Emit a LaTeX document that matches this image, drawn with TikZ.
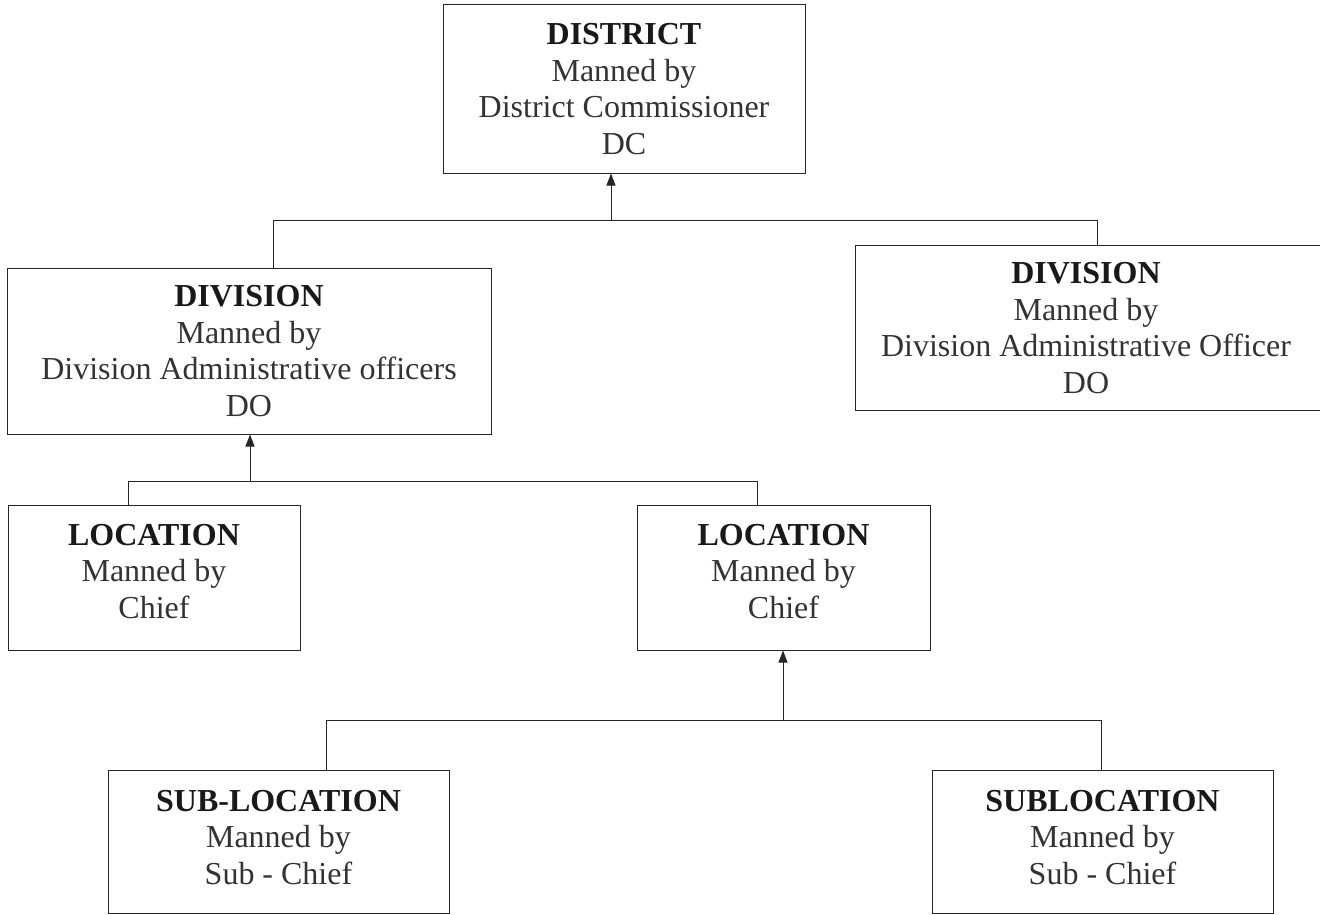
\documentclass[tikz,border=0pt]{standalone}
\usepackage{fontspec}
\setmainfont{Liberation Serif}
\usetikzlibrary{arrows.meta}

\tikzset{
  unit/.style={draw=black!85, line width=1pt, inner sep=0pt, align=center,
    font=\fontsize{32}{36.5}\selectfont, text=black!80},
  link/.style={draw=black!85, line width=1pt},
  up/.style={link, -{Triangle[length=12pt,width=9pt]}},
}
\newcommand\lvl[1]{\textbf{\color{black!90}#1}}

\begin{document}
\begin{tikzpicture}[x=1pt,y=-1pt]
  \useasboundingbox (0,0) rectangle (1320,915);

  %% top
  \node[unit, minimum width=362, minimum height=168] (dist) at (624,89)
    {\lvl{DISTRICT}\\Manned by\\District Commissioner\\DC};

  %% divisions
  \node[unit, minimum width=484, minimum height=166] (divL) at (249,351)
    {\lvl{DIVISION}\\Manned by\\Division Administrative officers\\DO};
  \node[unit, minimum width=480, minimum height=165, anchor=north west]
    (divR) at (855,245) {};
  \node[unit, draw=none] (divRtxt) at (1086,328)
    {\lvl{DIVISION}\\Manned by\\Division Administrative Officer\\DO};

  %% locations
  \node[unit, minimum width=292, minimum height=145] (locL) at (154,577.5)
    {\lvl{LOCATION}\\Manned by\\Chief\\[-24pt]};
  \node[unit, minimum width=293, minimum height=145] (locM) at (783.5,577.5)
    {\lvl{LOCATION}\\Manned by\\Chief\\[-24pt]};

  %% sub-locations
  \node[unit, minimum width=341, minimum height=143] (subL) at (278.5,841.5)
    {\lvl{SUB-LOCATION}\\Manned by\\Sub - Chief\\[-28pt]};
  \node[unit, minimum width=341, minimum height=143] (subR) at (1102.5,841.5)
    {\lvl{SUBLOCATION}\\Manned by\\Sub - Chief\\[-28pt]};

  %% district -> divisions
  \coordinate (jDist) at (611,220);
  \coordinate (jDivL) at (273,220);
  \coordinate (jDivR) at (1097,220);
  \draw[link] (jDivL |- divL.north) -- (jDivL) -- (jDivR) -- (jDivR |- divR.north);
  \draw[up] (jDist) -- (jDist |- dist.south);

  %% division -> locations
  \coordinate (jDiv) at (250,481);
  \coordinate (jLocL) at (128,481);
  \coordinate (jLocM) at (757,481);
  \draw[link] (jLocL |- locL.north) -- (jLocL) -- (jLocM) -- (jLocM |- locM.north);
  \draw[up] (jDiv) -- (jDiv |- divL.south);

  %% location -> sub-locations
  \coordinate (jLoc) at (783,720);
  \coordinate (jSubL) at (326,720);
  \coordinate (jSubR) at (1101,720);
  \draw[link] (jSubL |- subL.north) -- (jSubL) -- (jSubR) -- (jSubR |- subR.north);
  \draw[up] (jLoc) -- (jLoc |- locM.south);

\end{tikzpicture}
\end{document}
